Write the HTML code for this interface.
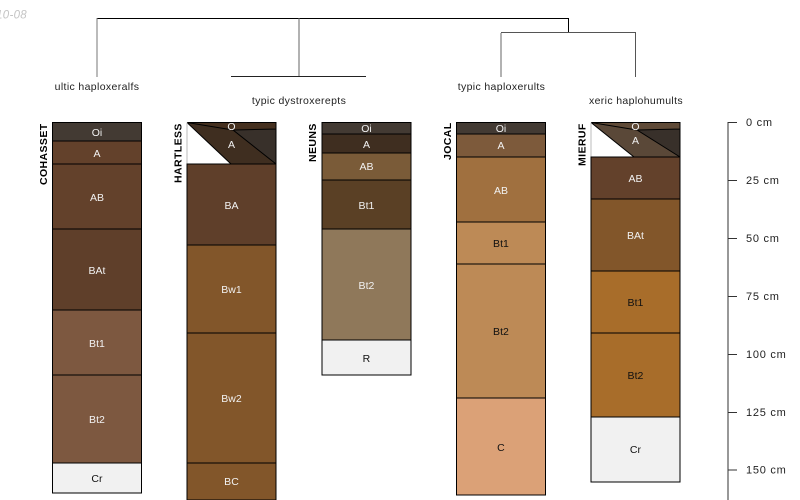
<!DOCTYPE html>
<html><head><meta charset="utf-8"><style>
html,body{margin:0;padding:0;background:#fff}
svg{display:block}
text{font-family:"Liberation Sans",sans-serif;font-size:10.5px;letter-spacing:.05px}
.h{text-anchor:middle}
.w{fill:#f2f2f2}
.b{fill:#111}
text.n{font-weight:bold;font-size:10.5px;fill:#000;letter-spacing:.4px}
text.t{letter-spacing:.36px}
text.s{font-size:11px;letter-spacing:.75px}
rect.l{stroke:#000;stroke-width:1}
</style></head><body>
<svg width="800" height="500" viewBox="0 0 800 500" xmlns="http://www.w3.org/2000/svg">
<text x="27" y="18.5" text-anchor="end" font-style="italic" style="font-size:11.5px;letter-spacing:.3px" fill="#c4c4c4">2010-08</text>

<g fill="none" stroke-width="1">
<path d="M97.5 18.5H568.5V33" stroke="#000"/>
<path d="M97 18V77" stroke="#777"/>
<path d="M299 18V77" stroke="#666"/>
<path d="M231 76.5H366" stroke="#222"/>
<path d="M501 33V77" stroke="#666"/>
<path d="M501 32.5H636" stroke="#555"/>
<path d="M635.5 33V77" stroke="#555"/>
</g>

<g fill="#222">
<text class="h t" x="97" y="90">ultic haploxeralfs</text>
<text class="h t" x="299" y="104">typic dystroxerepts</text>
<text class="h t" x="501.5" y="90">typic haploxerults</text>
<text class="h t" x="636" y="104">xeric haplohumults</text>
</g>

<g>
<text class="n" transform="translate(47,185) rotate(-90)">COHASSET</text>
<text class="n" transform="translate(181.5,183) rotate(-90)">HARTLESS</text>
<text class="n" transform="translate(316,162) rotate(-90)">NEUNS</text>
<text class="n" transform="translate(451,160) rotate(-90)">JOCAL</text>
<text class="n" transform="translate(585.5,166) rotate(-90)">MIERUF</text>
</g>

<!-- COHASSET -->
<g>
<rect class="l" x="52.5" y="122.5" width="89" height="18.5" fill="#433a33"/>
<rect class="l" x="52.5" y="141" width="89" height="23" fill="#63412b"/>
<rect class="l" x="52.5" y="164" width="89" height="65" fill="#63412b"/>
<rect class="l" x="52.5" y="229" width="89" height="81" fill="#5f3f2a"/>
<rect class="l" x="52.5" y="310" width="89" height="65" fill="#7d5840"/>
<rect class="l" x="52.5" y="375" width="89" height="88" fill="#7d5840"/>
<rect class="l" x="52.5" y="463" width="89" height="30" fill="#f1f1f1"/>
<text class="h w" x="97" y="136">Oi</text>
<text class="h w" x="97" y="157">A</text>
<text class="h w" x="97" y="201">AB</text>
<text class="h w" x="97" y="274">BAt</text>
<text class="h w" x="97" y="347">Bt1</text>
<text class="h w" x="97" y="423">Bt2</text>
<text class="h b" x="97" y="482">Cr</text>
</g>

<!-- HARTLESS -->
<g>
<rect x="187" y="122" width="89" height="42" fill="#fff"/>
<path d="M187 122.5H276V129L233 130Z" fill="#45301f"/>
<path d="M187 122.5L233 130L276 164H231Z" fill="#3f2e20"/>
<path d="M233 130L276 129V164Z" fill="#38302a"/>
<path d="M187 122.5L233 130L276 164M233 130L276 129M187 122.5H276V164M187 122.5L231 164" fill="none" stroke="#000" stroke-width="1"/>
<path d="M187 164V122.5" stroke="#bbb" stroke-width="1"/>
<rect class="l" x="187" y="164" width="89" height="81" fill="#5f3f2a"/>
<rect class="l" x="187" y="245" width="89" height="88" fill="#82562a"/>
<rect class="l" x="187" y="333" width="89" height="130" fill="#82562a"/>
<rect class="l" x="187" y="463" width="89" height="37" fill="#82562a"/>
<text class="h w" x="231.500" y="130">O</text>
<text class="h w" x="231.500" y="148">A</text>
<text class="h w" x="231.500" y="209">BA</text>
<text class="h w" x="231.500" y="293">Bw1</text>
<text class="h w" x="231.500" y="402">Bw2</text>
<text class="h w" x="231.500" y="485">BC</text>
</g>

<!-- NEUNS -->
<g>
<rect class="l" x="322" y="122.5" width="89" height="11.500" fill="#433a33"/>
<rect class="l" x="322" y="134" width="89" height="19" fill="#3f2e20"/>
<rect class="l" x="322" y="153" width="89" height="27" fill="#7a5b38"/>
<rect class="l" x="322" y="180" width="89" height="49" fill="#5a4025"/>
<rect class="l" x="322" y="229" width="89" height="111" fill="#8f785a"/>
<rect class="l" x="322" y="340" width="89" height="35" fill="#f1f1f1"/>
<text class="h w" x="366.500" y="132">Oi</text>
<text class="h w" x="366.500" y="148">A</text>
<text class="h w" x="366.500" y="170">AB</text>
<text class="h w" x="366.500" y="209">Bt1</text>
<text class="h w" x="366.500" y="289">Bt2</text>
<text class="h b" x="366.500" y="362">R</text>
</g>

<!-- JOCAL -->
<g>
<rect class="l" x="456.500" y="122.500" width="89" height="11.500" fill="#433a33"/>
<rect class="l" x="456.500" y="134" width="89" height="23" fill="#7d5a3b"/>
<rect class="l" x="456.500" y="157" width="89" height="65" fill="#a0703f"/>
<rect class="l" x="456.500" y="222" width="89" height="42" fill="#bd8a56"/>
<rect class="l" x="456.500" y="264" width="89" height="134" fill="#bd8a56"/>
<rect class="l" x="456.500" y="398" width="89" height="97" fill="#dba177"/>
<text class="h w" x="501" y="132">Oi</text>
<text class="h w" x="501" y="149">A</text>
<text class="h w" x="501" y="194">AB</text>
<text class="h b" x="501" y="247">Bt1</text>
<text class="h b" x="501" y="335">Bt2</text>
<text class="h b" x="501" y="451">C</text>
</g>

<!-- MIERUF -->
<g>
<rect x="591" y="122" width="89" height="35" fill="#fff"/>
<path d="M591 122.500H680V129L637 130Z" fill="#5f4a37"/>
<path d="M591 122.500L637 130L680 157H634Z" fill="#5a4838"/>
<path d="M637 130L680 129V157Z" fill="#38302a"/>
<path d="M591 122.500L637 130L680 157M637 130L680 129M591 122.500H680V157M591 122.500L634 157" fill="none" stroke="#000" stroke-width="1"/>
<path d="M591 157V122.500" stroke="#bbb" stroke-width="1"/>
<rect class="l" x="591" y="157" width="89" height="42" fill="#63412b"/>
<rect class="l" x="591" y="199" width="89" height="72" fill="#82562a"/>
<rect class="l" x="591" y="271" width="89" height="62" fill="#a86d2a"/>
<rect class="l" x="591" y="333" width="89" height="84" fill="#a86d2a"/>
<rect class="l" x="591" y="417" width="89" height="65" fill="#f1f1f1"/>
<text class="h w" x="635.500" y="130">O</text>
<text class="h w" x="635.500" y="144">A</text>
<text class="h w" x="635.500" y="182">AB</text>
<text class="h w" x="635.500" y="239">BAt</text>
<text class="h b" x="635.500" y="306">Bt1</text>
<text class="h b" x="635.500" y="379">Bt2</text>
<text class="h b" x="635.500" y="453">Cr</text>
</g>

<!-- Scale -->
<path d="M728 122V500" stroke="#777" stroke-width="1.500" fill="none"/>
<g stroke="#333" stroke-width="1" fill="none">
<path d="M728 122.500H737M728 180.500H737M728 238.500H737M728 296.500H737M728 354.500H737M728 412.500H737M728 470H737"/>
</g>
<g fill="#222">
<text class="s" x="746" y="126">0 cm</text>
<text class="s" x="746" y="184">25 cm</text>
<text class="s" x="746" y="242">50 cm</text>
<text class="s" x="746" y="300">75 cm</text>
<text class="s" x="746" y="358">100 cm</text>
<text class="s" x="746" y="416">125 cm</text>
<text class="s" x="746" y="473.500">150 cm</text>
</g>
</svg>
</body></html>
